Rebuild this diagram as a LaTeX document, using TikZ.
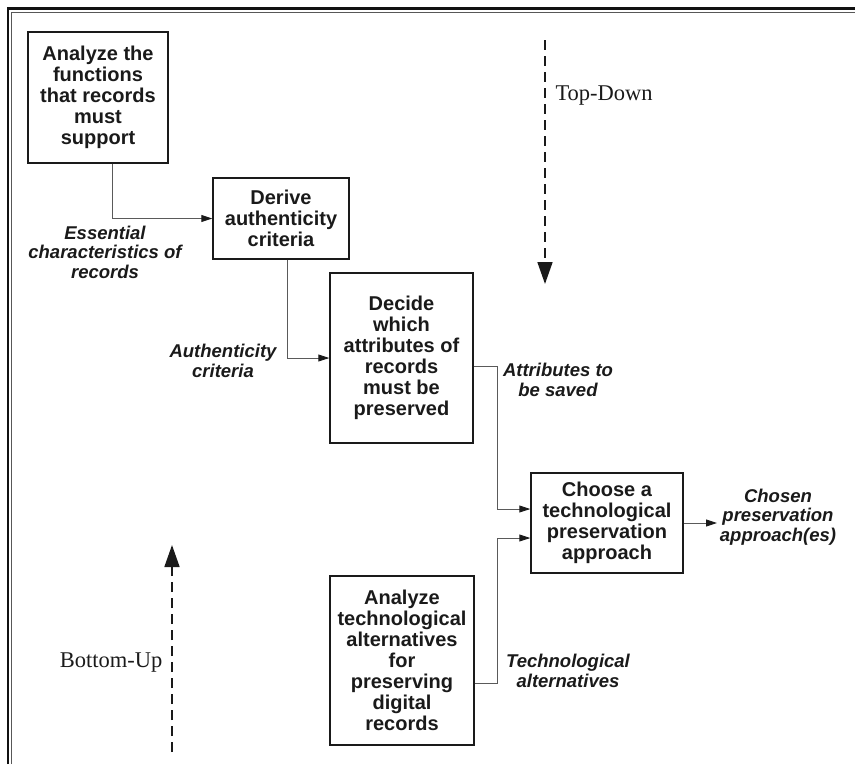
\documentclass[tikz,border=0pt]{standalone}
\usepackage{fontspec}
\setmainfont{Liberation Serif}
\setsansfont{Liberation Sans}
\usepackage{xcolor}
\definecolor{apink}{HTML}{1A1A1A}
\definecolor{apline}{HTML}{5A5A5A}
\definecolor{apframe}{HTML}{111111}
\usepackage{tikz}
\usetikzlibrary{calc,arrows.meta}

\begin{document}
\begin{tikzpicture}[
    x=1pt, y=-1pt,
    every node/.style={font=\sffamily, text=apink},
    task/.style={rectangle, draw=apink, line width=1.4pt, align=center, inner sep=2pt,
                 font=\sffamily\bfseries\fontsize{20}{21}\selectfont},
    flow/.style={-{Triangle[length=11pt, width=7pt, color=apink]}, color=apline, line width=0.9pt},
    lbl/.style={align=center, font=\sffamily\bfseries\itshape\fontsize{18.5}{19.5}\selectfont},
    sweep/.style={dash pattern=on 10pt off 6pt, line width=1.7pt, color=apink,
                  -{Triangle[length=22pt, width=15pt]}},
    sweeplbl/.style={font=\rmfamily\fontsize{22.5}{24}\selectfont},
  ]
  \useasboundingbox (0,0) rectangle (855,764);

  % page frame
  \draw[apframe, line width=1.6pt] (8,764) -- (8,8.5);
  \draw[apframe, line width=3pt] (7.2,8.5) -- (855,8.5);
  \draw[apframe!70, line width=0.8pt] (11.5,764) -- (11.5,12) -- (855,12);

  \node[task, minimum width=140pt, minimum height=131pt] (fun) at (98,97.5)
    {Analyze the\\functions\\that records\\must\\support};
  \node[task, minimum width=136pt, minimum height=81pt] (crit) at (281,218.5)
    {Derive\\authenticity\\criteria};
  \node[task, minimum width=143pt, minimum height=170pt] (attr) at (401.5,358)
    {Decide\\which\\attributes of\\records\\must be\\preserved};
  \node[task, minimum width=152pt, minimum height=100pt] (choose) at (607,523)
    {Choose a\\technological\\preservation\\approach};
  \node[task, minimum width=144pt, minimum height=169pt] (tech) at (402,660.5)
    {Analyze\\technological\\alternatives\\for\\preserving\\digital\\records};

  \draw[flow] ([xshift=14pt]fun.south) |- (crit.west);
  \draw[flow] ([xshift=6pt]crit.south) |- (attr.west);
  \draw[flow] ([yshift=-8pt]attr.east) -| ([xshift=-33pt,yshift=14pt]choose.west)
    -- ([yshift=14pt]choose.west);
  \draw[flow] ([yshift=-22.5pt]tech.east) -| ([xshift=-33pt,yshift=-15pt]choose.west)
    -- ([yshift=-15pt]choose.west);
  \coordinate (out) at (717,523);
  \draw[flow] (choose.east) -- (out);

  \node[lbl] (lfun)  at (105,252) {Essential\\characteristics of\\records};
  \node[lbl] (lcrit) at (223,361) {Authenticity\\criteria};
  \node[lbl] (lattr) at (558,380) {Attributes to\\be saved};
  \node[lbl] (ltech) at (568,671) {Technological\\alternatives};
  \node[lbl] (lout)  at (778,517) {Chosen\\preservation\\approach(es)};

  % design directions
  \coordinate (tdtop) at (545,40);
  \coordinate (tdbot) at (545,284);
  \draw[sweep] (tdtop) -- (tdbot);
  \node[sweeplbl, anchor=west] (td) at (552,96) {Top-Down};

  \coordinate (bubot) at (172,752);
  \coordinate (butop) at (172,545);
  \draw[sweep] (bubot) -- (butop);
  \node[sweeplbl, anchor=east] (bu) at (166,663) {Bottom-Up};

\end{tikzpicture}
\end{document}
